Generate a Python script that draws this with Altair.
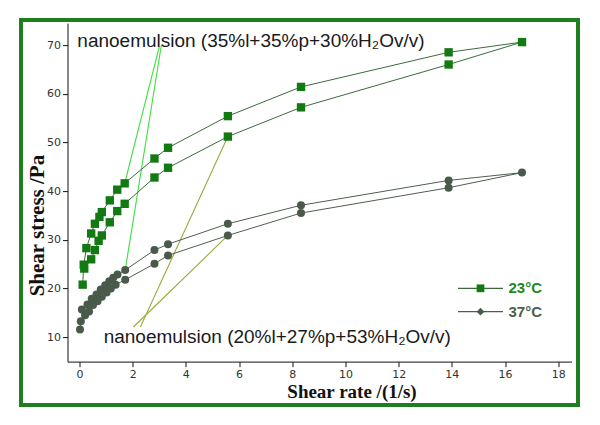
import altair as alt
import pandas as pd

# ---------------- data ----------------
series_names = ["23°C", "37°C"]

# 23 °C : up branch then down branch (hysteresis loop)
rate_23 = [0.12, 0.16, 0.26, 0.44, 0.58, 0.75, 0.84, 1.14, 1.42, 1.70, 2.82, 3.33, 5.58, 8.33, 13.88, 16.64,
           13.88, 8.33, 5.58, 3.33, 2.82, 1.70, 1.42, 1.14, 0.84, 0.72, 0.58, 0.44, 0.18]
stress_23 = [20.8, 24.9, 28.3, 31.3, 33.3, 34.7, 35.7, 38.1, 40.3, 41.6, 46.7, 48.9, 55.4, 61.4, 68.5, 70.6,
             66.0, 57.2, 51.2, 44.8, 42.8, 37.4, 35.9, 33.6, 30.9, 29.8, 27.9, 26.0, 24.1]

# 37 °C
rate_37 = [0.09, 0.30, 0.46, 0.64, 0.80, 0.97, 1.12, 1.27, 1.43, 1.72, 2.82, 3.33, 5.58, 8.33, 13.88, 16.64,
           13.88, 8.33, 5.58, 3.33, 2.82, 1.72, 1.36, 1.18, 1.02, 0.84, 0.68, 0.51, 0.36, 0.21, 0.05, 0.02]
stress_37 = [15.7, 16.7, 17.9, 18.8, 19.8, 20.7, 21.5, 22.2, 22.9, 23.8, 27.9, 29.1, 33.3, 37.1, 42.2, 43.8,
             40.7, 35.5, 30.9, 26.8, 25.1, 21.8, 20.8, 20.0, 19.2, 18.3, 17.4, 16.6, 15.3, 14.5, 13.3, 11.6]

x_ticks = list(range(0, 19))
y_ticks = list(range(10, 75, 5))

ann_text = ["nanoemulsion (35%l+35%p+30%H\u2082Ov/v)", "nanoemulsion (20%l+27%p+53%H\u2082Ov/v)"]
ann_x = [-0.08, 0.91]
ann_y = [69.65, 8.75]

lead_x = [3.00, 3.08, 2.29, 2.03]
lead_y = [69.6, 70.0, 12.1, 12.1]
lead_x2 = [1.70, 1.72, 5.58, 5.58]
lead_y2 = [41.6, 23.8, 51.2, 30.9]
lead_color = ["#3fdc3f", "#3fdc3f", "#9aaa3c", "#9aaa3c"]

marker_colors = ["#137a13", "#4a5a4a"]
line_colors = ["#3c6a3c", "#4e5e4e"]
label_colors = ["#1d8a1d", "#4e5e4e"]

# ---------------- tables ----------------
df = pd.concat([
    pd.DataFrame({"rate": rate_23, "stress": stress_23, "series": series_names[0],
                  "order": range(len(rate_23))}),
    pd.DataFrame({"rate": rate_37, "stress": stress_37, "series": series_names[1],
                  "order": range(len(rate_37))}),
], ignore_index=True)

ann_df = pd.DataFrame({"x": ann_x, "y": ann_y, "text": ann_text})
lead_df = pd.DataFrame({"x": lead_x, "y": lead_y, "x2": lead_x2, "y2": lead_y2, "c": lead_color})

W, H = 504, 338.5

xscale = alt.Scale(domain=[-0.45, 18.5], nice=False, zero=False)
yscale = alt.Scale(domain=[5, 74.5], nice=False, zero=False)

x_axis = alt.Axis(
    values=x_ticks,
    labelExpr="datum.value % 2 == 0 ? datum.label : ''",
    tickSize={"condition": {"test": "datum.value % 2 != 0", "value": 3}, "value": 5},
    title="Shear rate /(1/s)",
    titleFont="Liberation Serif", titleFontWeight="bold", titleFontSize=19, titleColor="#111",
    titleX=284, titleY=30, titleAlign="center", titleBaseline="middle",
    grid=False, labelFont="DejaVu Sans", labelFontSize=11, labelColor="#333",
    domainColor="#111", tickColor="#111", labelPadding=2,
)
y_axis = alt.Axis(
    values=y_ticks,
    labelExpr="datum.value % 10 == 0 ? datum.label : ''",
    tickSize={"condition": {"test": "datum.value % 10 != 0", "value": 3}, "value": 5},
    title="Shear stress /Pa",
    titleFont="Liberation Serif", titleFontWeight="bold", titleFontSize=21, titleColor="#111",
    titleX=-30, titleY=202, titleAngle=270, titleAlign="center", titleBaseline="middle",
    grid=False, labelFont="DejaVu Sans", labelFontSize=11, labelColor="#333",
    domainColor="#111", tickColor="#111", labelPadding=2,
)

X = alt.X("rate:Q", scale=xscale, axis=x_axis)
Y = alt.Y("stress:Q", scale=yscale, axis=y_axis)

layers = []

# annotation leader lines (drawn under data)
layers.append(
    alt.Chart(lead_df).mark_rule(strokeWidth=1.1).encode(
        x=alt.X("x:Q", scale=xscale), y=alt.Y("y:Q", scale=yscale),
        x2="x2:Q", y2="y2:Q", color=alt.Color("c:N", scale=None)
    )
)

for name, mc, lc, shape in zip(series_names, marker_colors, line_colors, ["square", "circle"]):
    sub = alt.Chart(df).transform_filter(alt.datum.series == name)
    layers.append(sub.mark_line(color=lc, strokeWidth=1).encode(x=X, y=Y, order="order:Q"))
    layers.append(sub.mark_point(shape=shape, filled=True, size=70 if shape == "square" else 64,
                                 color=mc, opacity=1).encode(x=X, y=Y))

layers.append(
    alt.Chart(ann_df).mark_text(align="left", baseline="alphabetic", font="Liberation Sans",
                                fontSize=19, color="#1a1a1a").encode(
        x=alt.X("x:Q", scale=xscale), y=alt.Y("y:Q", scale=yscale), text="text:N")
)

# legend (decoration)
leg_rows_y = [265.2, 288.6]
for name, mc, lc, tc, shape, ly in zip(series_names, marker_colors, line_colors, label_colors,
                                        ["square", "diamond"], leg_rows_y):
    ldf = pd.DataFrame({"label": [name]})
    base = alt.Chart(ldf)
    layers.append(base.mark_rule(color=lc, strokeWidth=1.2).encode(
        x=alt.value(390.5), x2=alt.value(435.5), y=alt.value(ly)))
    layers.append(base.mark_point(shape=shape, filled=True, size=60, color=mc, opacity=1).encode(
        x=alt.value(413), y=alt.value(ly)))
    layers.append(base.mark_text(align="left", baseline="middle", font="Liberation Sans",
                                 fontWeight="bold", fontSize=15, color=tc).encode(
        x=alt.value(441), y=alt.value(ly), text="label:N"))

# green frame around the figure (decoration)
layers.append(
    alt.Chart(pd.DataFrame({"f": [0]})).mark_rect(filled=False, stroke="#1f7f1f", strokeWidth=4).encode(
        x=alt.value(-46.5), x2=alt.value(510.5), y=alt.value(-3), y2=alt.value(382))
)

chart = alt.layer(*layers).properties(
    width=W, height=H,
    autosize=alt.AutoSizeParams(type="none"),
    padding={"left": 59.5, "top": 15.1, "right": 20, "bottom": 55},
    background="white",
).configure_view(strokeWidth=0)

chart.save("out.html", embed_options={"renderer": "svg", "actions": False})
